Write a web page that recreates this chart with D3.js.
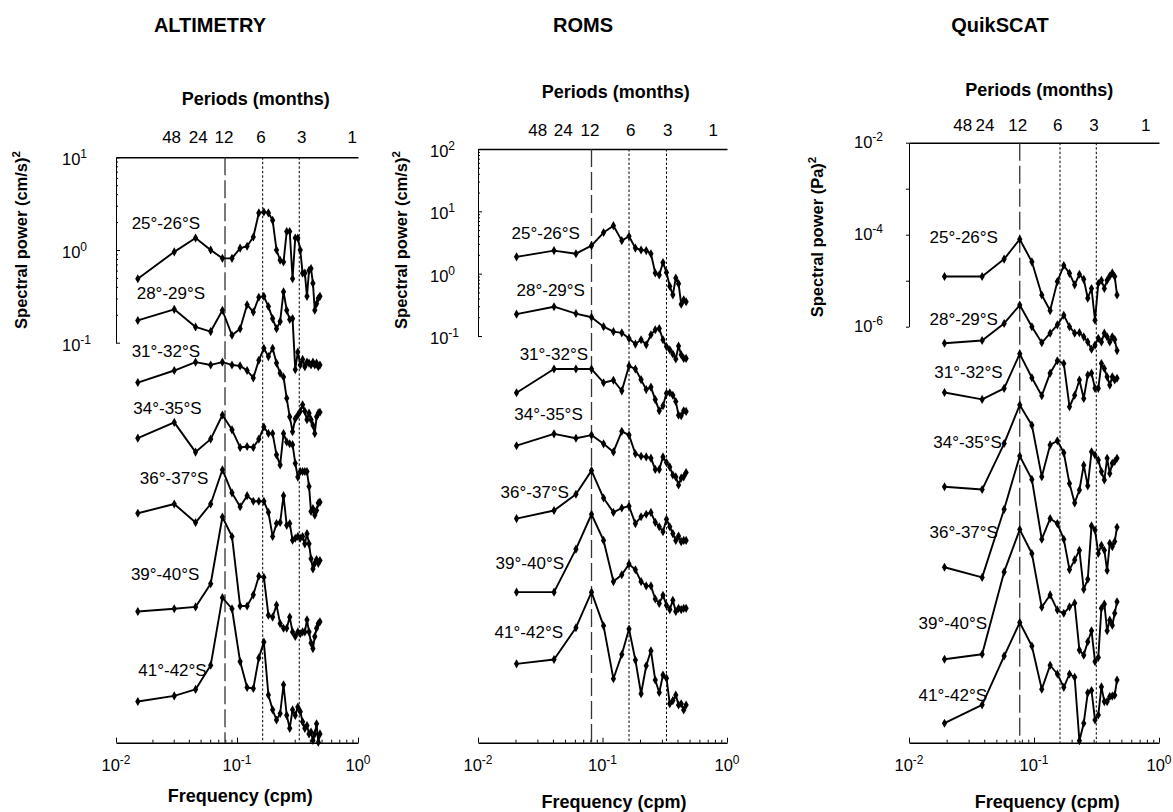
<!DOCTYPE html>
<html><head><meta charset="utf-8">
<script src="https://cdn.jsdelivr.net/npm/d3@7/dist/d3.min.js"></script>
<style>
body{margin:0;background:#fff;}
svg{display:block;font-family:"Liberation Sans",Arial,Helvetica,sans-serif;}
</style></head><body>
<svg id="chart" width="1173" height="812"></svg>
<script>
// ---------------- DATA ----------------
const bands = ["25°-26°S","28°-29°S","31°-32°S","34°-35°S","36°-37°S","39°-40°S","41°-42°S"];
const periodLabels = ["48","24","12","6","3","1"];
const bottomTickExps = [-2,-1,0];

// ALTIMETRY: frequencies (cpm) and log10 of plotted (stacked/offset) spectral power
const altFreq = [0.01515,0.0303,0.04545,0.0606,0.07576,0.0909,0.1061,0.1212,0.1364,0.1515,0.1667,0.1818,0.197,0.2121,0.2273,0.2424,0.2576,0.2727,0.2879,0.303,0.3182,0.3333,0.3485,0.3636,0.3788,0.3939,0.4091,0.4242,0.4394,0.4545,0.4697,0.4848];
const altLog10Power = [
 [-0.31,-0.02,0.13,0.00,-0.09,-0.09,0.02,0.04,0.14,0.40,0.41,0.40,0.32,0.00,-0.11,-0.13,0.20,0.20,-0.31,0.13,0.13,0.00,-0.25,-0.25,-0.50,-0.22,-0.20,-0.36,-0.65,-0.58,-0.52,-0.50],
 [-0.76,-0.64,-0.83,-0.88,-0.65,-0.92,-0.85,-0.59,-0.67,-0.51,-0.50,-0.61,-0.74,-0.85,-0.77,-0.45,-0.65,-0.75,-0.74,-1.29,-1.10,-1.24,-1.18,-1.26,-1.21,-1.22,-1.24,-1.21,-1.24,-1.22,-1.26,-1.24],
 [-1.43,-1.30,-1.21,-1.24,-1.21,-1.24,-1.25,-1.30,-1.38,-1.19,-1.06,-1.15,-1.06,-1.22,-1.33,-1.37,-1.60,-1.80,-1.96,-1.82,-1.78,-1.74,-1.67,-1.74,-1.83,-1.76,-1.83,-1.89,-1.98,-1.80,-1.76,-1.75],
 [-2.03,-1.86,-2.18,-2.04,-1.78,-1.94,-2.13,-2.12,-2.13,-2.04,-1.91,-1.98,-1.98,-2.21,-2.32,-1.98,-2.07,-2.09,-2.10,-2.30,-2.45,-2.39,-2.39,-2.39,-2.39,-2.55,-2.82,-2.79,-2.86,-2.81,-2.73,-2.72],
 [-2.84,-2.74,-2.94,-2.74,-2.37,-2.62,-2.77,-2.65,-2.71,-2.71,-2.71,-2.83,-3.09,-2.95,-2.94,-2.65,-2.97,-2.95,-3.13,-3.11,-3.09,-3.11,-3.09,-3.17,-3.06,-3.17,-3.33,-3.44,-3.38,-3.34,-3.38,-3.35],
 [-3.90,-3.87,-3.85,-3.60,-2.88,-3.09,-3.84,-3.84,-3.72,-3.52,-3.53,-3.94,-3.96,-3.83,-4.03,-4.08,-4.08,-3.96,-4.12,-4.17,-4.12,-4.14,-4.12,-4.12,-3.99,-4.12,-4.24,-4.30,-4.17,-4.08,-4.03,-4.01],
 [-4.87,-4.81,-4.74,-4.48,-3.75,-3.87,-4.44,-4.72,-4.73,-4.40,-4.23,-4.80,-4.96,-5.07,-5.00,-4.69,-5.02,-5.16,-4.96,-5.02,-4.93,-4.98,-5.09,-5.16,-5.13,-5.22,-5.20,-5.29,-5.22,-5.11,-5.31,-5.22]
];
const altRefFreq = [0.0796,0.163,0.327];
const altPeriodFreq = [0.0288,0.0479,0.0782,0.1578,0.343,0.897];
const altLabelFreq = [0.0495,0.0545,0.0495,0.0511,0.0579,0.0488,0.0562];
const altLabelLog = [0.288,-0.467,-1.086,-1.708,-2.463,-3.495,-4.531];

// ROMS
const romsFreq = [0.0204,0.0408,0.0612,0.0816,0.102,0.1224,0.1429,0.1633,0.1837,0.2041,0.2245,0.2449,0.2653,0.2857,0.3061,0.3265,0.3469,0.3673,0.3878,0.4082,0.4286,0.449,0.4694];
const romsLog10Power = [
 [0.27,0.37,0.32,0.45,0.66,0.77,0.53,0.60,0.41,0.38,0.37,0.32,0.01,-0.02,0.18,0.02,-0.20,-0.34,-0.07,-0.16,-0.49,-0.42,-0.45],
 [-0.65,-0.53,-0.64,-0.70,-0.85,-0.93,-0.95,-1.04,-1.13,-1.06,-1.14,-0.98,-0.90,-0.88,-1.06,-1.17,-1.22,-1.29,-1.37,-1.16,-1.30,-1.36,-1.36],
 [-1.91,-1.53,-1.53,-1.53,-1.75,-1.71,-1.88,-1.48,-1.53,-1.70,-1.86,-1.82,-2.02,-2.20,-2.12,-1.92,-1.91,-1.95,-2.05,-2.27,-2.28,-2.20,-2.21],
 [-2.76,-2.57,-2.64,-2.59,-2.73,-2.86,-2.53,-2.59,-2.89,-2.93,-2.94,-2.96,-3.14,-3.14,-2.94,-3.03,-3.10,-3.23,-3.26,-3.39,-3.28,-3.26,-3.19],
 [-3.93,-3.80,-3.54,-3.16,-3.60,-3.83,-3.76,-3.73,-4.01,-3.90,-3.86,-3.83,-3.99,-4.06,-4.14,-3.94,-4.06,-4.17,-4.28,-4.21,-4.30,-4.28,-4.28],
 [-5.11,-5.11,-4.42,-3.86,-4.28,-4.94,-4.83,-4.66,-4.75,-4.94,-5.01,-5.01,-5.22,-5.29,-5.16,-5.32,-5.39,-5.24,-5.42,-5.37,-5.39,-5.37,-5.37],
 [-6.26,-6.19,-5.68,-5.11,-5.65,-6.50,-6.11,-5.70,-6.20,-6.74,-6.29,-6.05,-6.52,-6.72,-6.44,-6.49,-6.90,-6.85,-6.76,-6.92,-6.90,-7.00,-6.92]
];
const romsRefFreq = [0.0816,0.1633,0.3265];
const romsPeriodFreq = [0.0302,0.0484,0.0794,0.1687,0.334,0.776];
const romsLabelFreq = [0.0659,0.0723,0.0766,0.0694,0.0538,0.0491,0.0482];
const romsLabelLog = [0.647,-0.263,-1.29,-2.258,-3.51,-4.64,-5.748];

// QuikSCAT
const qsFreq = [0.01923,0.03846,0.05769,0.07692,0.09615,0.1154,0.1346,0.1538,0.1731,0.1923,0.2115,0.2308,0.25,0.2692,0.2885,0.3077,0.3269,0.3462,0.3654,0.3846,0.4038,0.4231,0.4423,0.4615];
const qsLog10Power = [
 [-4.91,-4.91,-4.53,-4.10,-4.59,-5.31,-5.65,-5.02,-4.67,-4.84,-5.09,-4.86,-4.97,-5.38,-5.17,-5.86,-5.06,-4.99,-5.17,-4.99,-4.90,-4.83,-4.91,-5.31],
 [-6.36,-6.30,-5.93,-5.53,-6.00,-6.35,-6.14,-5.96,-5.75,-6.00,-6.14,-6.13,-6.22,-6.33,-6.49,-6.40,-6.25,-6.33,-6.14,-6.22,-6.33,-6.22,-6.28,-6.52],
 [-7.43,-7.58,-7.34,-6.59,-7.11,-7.50,-7.01,-6.74,-6.80,-7.74,-7.49,-7.16,-7.56,-7.05,-7.01,-7.34,-7.34,-6.80,-6.91,-7.09,-7.27,-7.09,-7.16,-7.12],
 [-9.48,-9.54,-8.54,-7.70,-8.14,-9.26,-8.57,-8.48,-8.74,-9.41,-9.83,-9.55,-9.01,-9.46,-8.72,-8.79,-8.90,-9.15,-9.33,-8.86,-9.19,-8.97,-8.93,-8.86],
 [-11.23,-11.45,-9.97,-8.81,-9.32,-10.62,-10.17,-10.28,-10.62,-11.28,-11.07,-10.86,-11.71,-11.49,-10.33,-10.42,-10.93,-10.75,-10.86,-11.30,-10.71,-10.78,-10.67,-10.36],
 [-13.23,-13.12,-11.33,-10.41,-10.93,-12.10,-11.83,-12.16,-12.23,-12.09,-12.01,-13.03,-13.14,-12.85,-12.61,-13.28,-13.19,-12.12,-12.03,-12.61,-12.38,-12.49,-12.23,-11.98],
 [-14.62,-14.22,-13.16,-12.43,-12.94,-13.88,-13.36,-13.55,-13.84,-13.55,-13.62,-15.00,-14.62,-13.96,-13.91,-14.55,-14.44,-13.83,-14.15,-14.15,-14.04,-14.03,-14.01,-13.68]
];
const qsRefFreq = [0.0769,0.1614,0.315];
const qsPeriodFreq = [0.0269,0.0406,0.0741,0.1549,0.302,0.783];
const qsLabelFreq = [0.0515,0.0515,0.0562,0.0552,0.0515,0.0421,0.0421];
const qsLabelLog = [-4.043,-5.839,-6.978,-8.5,-10.457,-12.448,-14.007];

// ---------------- LAYOUT ----------------
const Y_BOTTOM = 742.7;
const panels = [
 {title:"ALTIMETRY", titleX:210, unit:"(cm/s)", freq:altFreq, logP:altLog10Power, ref:altRefFreq, perF:altPeriodFreq, labF:altLabelFreq, labL:altLabelLog,
  xPx:[116,358], yTop:157.3, topExp:1, decade:92.7, lowExp:-1, labeledExps:[1,0,-1], minor:true, tickLabX:62, tickLabDy:8,
  perY:142.5, perTitle:[255.7,104.5], yTitle:[21,240], freqTitle:[240.3,802]},
 {title:"ROMS", titleX:583, unit:"(cm/s)", freq:romsFreq, logP:romsLog10Power, ref:romsRefFreq, perF:romsPeriodFreq, labF:romsLabelFreq, labL:romsLabelLog,
  xPx:[478,727], yTop:149, topExp:2, decade:62.33, lowExp:-1, labeledExps:[2,1,0,-1], minor:true, tickLabX:430, tickLabDy:8,
  perY:135.5, perTitle:[615.7,97.5], yTitle:[401,240], freqTitle:[614,807.5]},
 {title:"QuikSCAT", titleX:1000, unit:"(Pa)", freq:qsFreq, logP:qsLog10Power, ref:qsRefFreq, perF:qsPeriodFreq, labF:qsLabelFreq, labL:qsLabelLog,
  xPx:[909,1159], yTop:142.7, topExp:-2, decade:46, lowExp:-6, labeledExps:[-2,-4,-6], minor:false, tickLabX:854, tickLabDy:5,
  perY:131, perTitle:[1039.3,96], yTitle:[817,237], freqTitle:[1047.3,807.5]}
];

const svg = d3.select("#chart");
svg.append("rect").attr("width",1173).attr("height",812).attr("fill","#fff");

function powText(sel, base, exp, supSize, supDy){
  sel.append("tspan").text(base);
  sel.append("tspan").attr("dy", supDy).attr("font-size", supSize).text(exp);
}

panels.forEach(p => {
  const x = d3.scaleLog().domain([0.01, 1]).range(p.xPx);
  const bottomExp = p.topExp - (Y_BOTTOM - p.yTop) / p.decade;
  const y = d3.scaleLog().domain([Math.pow(10, bottomExp), Math.pow(10, p.topExp)]).range([Y_BOTTOM, p.yTop]);
  const g = svg.append("g");

  // Titles
  g.append("text").attr("x", p.titleX).attr("y", 32).attr("text-anchor","middle")
    .attr("font-weight","bold").attr("font-size",20).text(p.title);
  g.append("text").attr("x", p.perTitle[0]).attr("y", p.perTitle[1]).attr("text-anchor","middle")
    .attr("font-weight","bold").attr("font-size",18).text("Periods (months)");
  g.append("text").attr("x", p.freqTitle[0]).attr("y", p.freqTitle[1]).attr("text-anchor","middle")
    .attr("font-weight","bold").attr("font-size",18).text("Frequency (cpm)");
  const yt = g.append("text").attr("transform", `translate(${p.yTitle[0]+6},${p.yTitle[1]}) rotate(-90)`)
    .attr("text-anchor","middle").attr("font-weight","bold").attr("font-size",16.5);
  yt.append("tspan").text("Spectral power " + p.unit);
  yt.append("tspan").attr("dy",-7).attr("font-size",11.5).text("2");

  // Top axis line (no ticks)
  const top = g.append("g").attr("transform",`translate(0,${p.yTop})`)
    .call(d3.axisTop(x).tickValues([]).tickSizeOuter(0));
  top.select(".domain").attr("stroke","#000").attr("stroke-width",1.4);

  // Period labels
  g.selectAll("text.per").data(periodLabels).join("text").attr("class","per")
    .attr("x",(d,i)=>x(p.perF[i])).attr("y",p.perY).attr("text-anchor","middle")
    .attr("font-size",17).text(d=>d);

  // Bottom axis
  const minorX = [];
  [-2,-1].forEach(k => { for (let m=2;m<=9;m++) minorX.push(m*Math.pow(10,k)); });
  const bx1 = g.append("g").attr("transform",`translate(0,${Y_BOTTOM})`)
    .call(d3.axisBottom(x).tickValues(minorX).tickSize(-3).tickSizeOuter(0).tickFormat(""));
  const bx2 = g.append("g").attr("transform",`translate(0,${Y_BOTTOM})`)
    .call(d3.axisBottom(x).tickValues(bottomTickExps.map(e=>Math.pow(10,e))).tickSize(-5).tickSizeOuter(0).tickFormat(""));
  bx1.select(".domain").attr("stroke","#000").attr("stroke-width",1.4);
  bx2.select(".domain").remove();
  [bx1,bx2].forEach(a=>a.selectAll(".tick line").attr("stroke","#000"));
  bottomTickExps.forEach(e => {
    const t = g.append("text").attr("x", x(Math.pow(10,e))).attr("y", 771)
      .attr("text-anchor","middle").attr("font-size",16.5);
    powText(t, "10", String(e), 12, -7);
  });

  // Left axis (only over the upper decades)
  const yAxisScale = y.copy().domain([Math.pow(10,p.lowExp), Math.pow(10,p.topExp)])
    .range([y(Math.pow(10,p.lowExp)), p.yTop]);
  const majorY = d3.range(p.lowExp, p.topExp+1).map(e=>Math.pow(10,e));
  const ax = g.append("g").attr("transform",`translate(${p.xPx[0]},0)`)
    .call(d3.axisRight(yAxisScale).tickValues(majorY).tickSize(p.minor?4:-3).tickSizeOuter(0).tickFormat(""));
  ax.select(".domain").attr("stroke","#000").attr("stroke-width",1);
  ax.selectAll(".tick line").attr("stroke","#000");
  if (p.minor) {
    const minorY = [];
    for (let k=p.lowExp;k<p.topExp;k++) for (let m=2;m<=9;m++) minorY.push(m*Math.pow(10,k));
    const axm = g.append("g").attr("transform",`translate(${p.xPx[0]},0)`)
      .call(d3.axisRight(yAxisScale).tickValues(minorY).tickSize(2).tickSizeOuter(0).tickFormat(""));
    axm.select(".domain").remove();
    axm.selectAll(".tick line").attr("stroke","#000");
  }
  p.labeledExps.forEach(e => {
    const t = g.append("text").attr("x", p.tickLabX).attr("y", y(Math.pow(10,e)) + p.tickLabDy)
      .attr("font-size",16.5);
    powText(t, "10", String(e), 12, -7);
  });

  // Reference lines: 12 months dashed, 6 and 3 months dotted
  g.selectAll("line.ref").data(p.ref).join("line").attr("class","ref")
    .attr("x1",d=>x(d)).attr("x2",d=>x(d)).attr("y1",p.yTop).attr("y2",Y_BOTTOM)
    .attr("stroke",(d,i)=>i===0?"#333":"#000")
    .attr("stroke-width",(d,i)=>i===0?1.3:1)
    .attr("stroke-dasharray",(d,i)=>i===0?"18,5":"2.5,2");

  // Curves
  const line = d3.line().x(d=>x(d[0])).y(d=>y(Math.pow(10,d[1])));
  const sym = d3.symbol().type(d3.symbolDiamond).size(24);
  p.logP.forEach((series, si) => {
    const pts = series.map((v,i)=>[p.freq[i], v]);
    g.append("path").datum(pts).attr("d", line).attr("fill","none")
      .attr("stroke","#000").attr("stroke-width",1.9).attr("stroke-linejoin","round");
    g.append("g").selectAll("path").data(pts).join("path")
      .attr("transform", d=>`translate(${x(d[0])},${y(Math.pow(10,d[1]))})`)
      .attr("d", sym).attr("fill","#000");
    g.append("text").attr("x", x(p.labF[si])).attr("y", y(Math.pow(10,p.labL[si])) + 6)
      .attr("text-anchor","end").attr("font-size",17).text(bands[si]);
  });
});
</script>
</body></html>
